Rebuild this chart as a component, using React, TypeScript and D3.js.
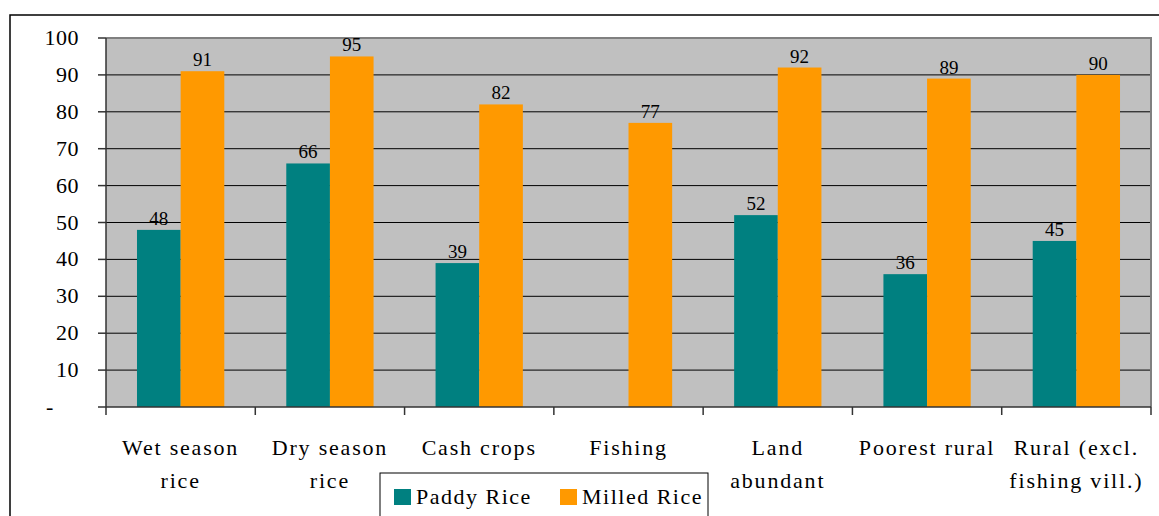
import React from "react";
import * as d3 from "d3";

const categories: string[][] = [
  ["Wet season", "rice"],
  ["Dry season", "rice"],
  ["Cash crops"],
  ["Fishing"],
  ["Land", "abundant"],
  ["Poorest rural"],
  ["Rural (excl.", "fishing vill.)"],
];
const paddyRice: (number | null)[] = [48, 66, 39, null, 52, 36, 45];
const milledRice: number[] = [91, 95, 82, 77, 92, 89, 90];
const yTicks: number[] = [0, 10, 20, 30, 40, 50, 60, 70, 80, 90, 100];
const seriesNames = ["Paddy Rice", "Milled Rice"];
const seriesColors = ["#008080", "#FF9900"];

const W = 1159;
const H = 516;
const plot = { left: 106, top: 38, right: 1151, bottom: 407 };
const FONT = '"Liberation Serif", "Times New Roman", Tinos, "DejaVu Serif", "Noto Serif", Times, serif';
const txt = { fontFamily: FONT };

export default function App() {
  const x = d3
    .scaleBand<number>()
    .domain(categories.map((_, i) => i))
    .range([plot.left, plot.right])
    .paddingInner(0)
    .paddingOuter(0);
  const inner = d3
    .scaleBand<number>()
    .domain([0, 1])
    .range([0, x.bandwidth()])
    .paddingOuter(0.71)
    .paddingInner(0);
  const y = d3.scaleLinear().domain([0, 100]).range([plot.bottom, plot.top]);

  const series = [paddyRice, milledRice];

  return (
    <svg
      width={W}
      height={H}
      style={{ position: "absolute", left: 0, top: 0, background: "#fff" }}
    >
      {/* outer chart frame */}
      <rect x={10} y={15} width={1170} height={530} fill="none" stroke="#000" strokeWidth={1.5} />

      {/* plot background */}
      <rect
        x={plot.left}
        y={plot.top}
        width={plot.right - plot.left}
        height={plot.bottom - plot.top}
        fill="#C0C0C0"
      />
      {/* gridlines */}
      {yTicks
        .filter((t) => t > 0 && t < 100)
        .map((t) => (
          <line key={t} x1={plot.left} x2={plot.right} y1={y(t)} y2={y(t)} stroke="#000" strokeWidth={1} />
        ))}
      {/* plot border (top/right) */}
      <path
        d={`M${plot.left},${plot.top}H${plot.right}V${plot.bottom}`}
        fill="none"
        stroke="#808080"
        strokeWidth={2}
      />

      {/* bars */}
      {series.map((vals, s) =>
        vals.map((v, i) =>
          v == null ? null : (
            <rect
              key={`${s}-${i}`}
              x={(x(i) as number) + (inner(s) as number)}
              y={y(v)}
              width={inner.bandwidth()}
              height={y(0) - y(v)}
              fill={seriesColors[s]}
            />
          )
        )
      )}
      {/* value labels */}
      {series.map((vals, s) =>
        vals.map((v, i) =>
          v == null ? null : (
            <text
              key={`l${s}-${i}`}
              x={(x(i) as number) + (inner(s) as number) + inner.bandwidth() / 2}
              y={y(v) - 5}
              textAnchor="middle"
              fontSize={19}
              fill="#000"
              style={txt}
            >
              {v}
            </text>
          )
        )
      )}

      {/* y axis */}
      <line x1={plot.left} x2={plot.left} y1={plot.top} y2={plot.bottom} stroke="#333" strokeWidth={1.5} />
      {yTicks.map((t) => (
        <g key={t}>
          <line x1={plot.left - 8} x2={plot.left} y1={y(t)} y2={y(t)} stroke="#333" strokeWidth={1.5} />
          <text
            x={t === 0 ? 50 : 79}
            y={y(t) + 7}
            textAnchor={t === 0 ? "middle" : "end"}
            fontSize={22}
            letterSpacing={0.5}
            fill="#000"
            style={txt}
          >
            {t === 0 ? "-" : t}
          </text>
        </g>
      ))}

      {/* x axis */}
      <line x1={plot.left} x2={plot.right} y1={plot.bottom} y2={plot.bottom} stroke="#333" strokeWidth={1.5} />
      {d3.range(categories.length + 1).map((i) => {
        const xx = i < categories.length ? (x(i) as number) : plot.right;
        return <line key={i} x1={xx} x2={xx} y1={plot.bottom} y2={plot.bottom + 8} stroke="#333" strokeWidth={1.5} />;
      })}
      {categories.map((lines, i) => (
        <text
          key={i}
          x={(x(i) as number) + x.bandwidth() / 2}
          textAnchor="middle"
          fontSize={22}
          fill="#000"
          letterSpacing={1.8}
          style={txt}
        >
          {lines.map((ln, j) => (
            <tspan key={j} x={(x(i) as number) + x.bandwidth() / 2} y={455 + j * 33}>
              {ln}
            </tspan>
          ))}
        </text>
      ))}

      {/* legend */}
      <rect x={380} y={473} width={328} height={60} fill="#fff" stroke="#000" strokeWidth={1} />
      {seriesNames.map((name, s) => {
        const lx = s === 0 ? 394 : 560;
        return (
          <g key={name}>
            <rect x={lx} y={489} width={17} height={16} fill={seriesColors[s]} />
            <text x={lx + 22} y={504} fontSize={22} letterSpacing={1.5} fill="#000" style={txt}>
              {name}
            </text>
          </g>
        );
      })}
    </svg>
  );
}
